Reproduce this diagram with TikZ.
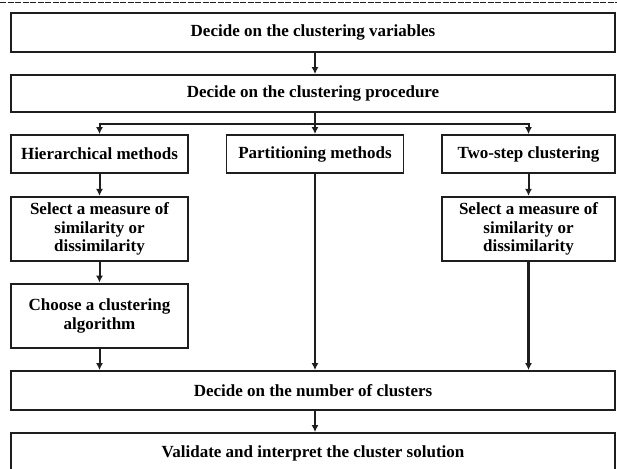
\documentclass[tikz,border=0pt]{standalone}
\usepackage{fontspec}
\setmainfont{Liberation Serif}
\usepackage{tikz}
\usetikzlibrary{arrows.meta, positioning}
\definecolor{ink}{HTML}{1E1E1E}

\begin{document}
\begin{tikzpicture}[x=1pt, y=-1pt,
        wide/.style={draw=ink, line width=1.8pt, minimum width=604pt, minimum height=39pt, inner sep=0pt, font=\fontsize{17}{18.5}\selectfont\bfseries},
        box/.style={draw=ink, line width=1.8pt, minimum width=177pt, minimum height=38pt, inner sep=0pt, align=center, font=\fontsize{17}{18.5}\selectfont\bfseries},
        tall/.style={box, minimum height=64pt, line width=2.2pt},
        arrow/.style={draw=ink, line width=2pt, -{Latex[length=7pt, width=7pt]}}
    ]
        \useasboundingbox (0,0) rectangle (617,468);
        \draw[ink, line width=0.6pt, dash pattern=on 6pt off 1.5pt] (0,2) -- (617,2);

        % main steps
        \node[wide] (vars) at (313,32.5) {Decide on the clustering variables};
        \node[wide, minimum height=37pt] (proc) at (313,93.5) {Decide on the clustering procedure};

        % the three methods
        \node[box] (hier) at (99.5,154) {Hierarchical methods};
        \node[box] (part) at (315,154) {Partitioning methods};
        \node[box, minimum width=173pt] (twostep) at (528.5,154) {Two-step clustering};

        \node[tall] (measA) at (99.5,229) {Select a measure of\\similarity or\\dissimilarity};
        \node[tall, line width=2.8pt] (algo) at (99.5,316) {Choose a clustering\\algorithm};
        \node[tall, minimum width=173pt] (measB) at (528.5,229) {Select a measure of\\similarity or\\dissimilarity};

        \node[wide] (number) at (313,390.5) {Decide on the number of clusters};
        \node[wide, minimum height=40pt] (valid) at (313,453) {Validate and interpret the cluster solution};

        % connectors
        \coordinate (split) at (315,124);
        \draw[arrow] (part.north |- vars.south) -- (part.north |- proc.north);
        \draw[draw=ink, line width=2.4pt] (part.north |- proc.south) -- (split);
        \draw[arrow] (split) -| (hier.north);
        \draw[arrow] (split) -| (twostep.north);
        \draw[arrow] (split) -- (part.north);

        \draw[arrow] (hier) -- (measA);
        \draw[arrow] (measA) -- (algo);
        \draw[arrow] (algo.south) -- (algo.south |- number.north);
        \draw[arrow, line width=2.5pt] (part.south) -- (part.south |- number.north);
        \draw[arrow] (twostep) -- (measB);
        \draw[arrow, line width=2.2pt] (measB.south) -- (measB.south |- number.north);
        \draw[arrow] (part.south |- number.south) -- (part.south |- valid.north);

    \end{tikzpicture}
\end{document}
